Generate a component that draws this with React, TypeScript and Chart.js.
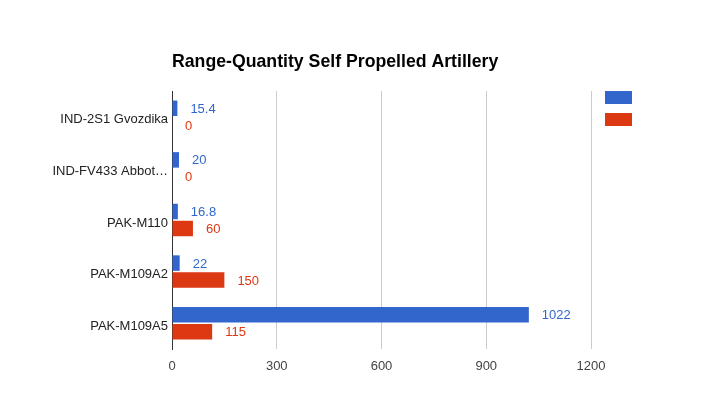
import React, { useEffect, useRef } from "react";
import { Chart, registerables } from "chart.js";

Chart.register(...registerables);

const categories = ["IND-2S1 Gvozdika", "IND-FV433 Abbot…", "PAK-M110", "PAK-M109A2", "PAK-M109A5"];
const rangeValues = [15.4, 20, 16.8, 22, 1022];
const quantityValues = [0, 0, 60, 150, 115];
const xTicks = [0, 300, 600, 900, 1200];
const titleText = "Range-Quantity Self Propelled Artillery";

const BLUE = "#3366cc";
const RED = "#dc3912";
const FONT = "'Liberation Sans', Arial, sans-serif";

const overlayPlugin = {
  id: "overlay",
  afterDatasetsDraw(chart: any) {
    const ctx = chart.ctx;
    const area = chart.chartArea;
    ctx.save();
    ctx.font = `13px ${FONT}`;
    ctx.textAlign = "left";
    ctx.textBaseline = "middle";
    chart.data.datasets.forEach((ds: any, di: number) => {
      const meta = chart.getDatasetMeta(di);
      meta.data.forEach((el: any, i: number) => {
        ctx.fillStyle = ds.backgroundColor;
        ctx.fillText(String(ds.data[i]), el.x + 13, el.y + 1);
      });
    });
    ctx.font = `bold 17.7px ${FONT}`;
    ctx.fillStyle = "#000";
    ctx.textBaseline = "middle";
    ctx.fillText(titleText, area.left, 62);
    chart.data.datasets.forEach((ds: any, di: number) => {
      ctx.fillStyle = ds.backgroundColor;
      ctx.fillRect(area.right + 14, area.top + di * 22, 27, 13);
    });
    ctx.restore();
  },
};

export default function App() {
  const ref = useRef<HTMLCanvasElement | null>(null);
  useEffect(() => {
    if (!ref.current) return;
    const chart = new Chart(ref.current, {
      type: "bar",
      data: {
        labels: categories,
        datasets: [
          { label: "", data: rangeValues, backgroundColor: BLUE, categoryPercentage: 0.66, barPercentage: 0.91 },
          { label: "", data: quantityValues, backgroundColor: RED, categoryPercentage: 0.66, barPercentage: 0.91 },
        ],
      },
      options: {
        indexAxis: "y",
        animation: false,
        responsive: false,
        maintainAspectRatio: false,
        layout: { padding: { top: 91, right: 112, left: 0, bottom: 0 } },
        plugins: {
          legend: { display: false },
          title: { display: false },
          tooltip: { enabled: false },
        },
        scales: {
          x: {
            min: 0,
            max: 1200,
            afterBuildTicks(scale: any) {
              scale.ticks = xTicks.map((v) => ({ value: v }));
            },
            afterFit(scale: any) {
              scale.height = 61;
            },
            grid: { color: "#cccccc", drawTicks: false },
            border: { display: false },
            ticks: {
              color: "#444444",
              font: { family: FONT, size: 13 },
              padding: 10,
              callback: (v: any) => String(v),
            },
          },
          y: {
            afterFit(scale: any) {
              scale.width = 172;
            },
            grid: { display: false, drawTicks: false },
            border: { display: true, color: "#333333", width: 1 },
            ticks: { color: "#222222", font: { family: FONT, size: 13 }, padding: 4, labelOffset: 3 },
          },
        },
      },
      plugins: [overlayPlugin],
    } as any);
    return () => chart.destroy();
  }, []);
  return (
    <div style={{ position: "absolute", left: 0, top: 0, width: 703, height: 410, background: "#fff" }}>
      <canvas ref={ref} width={703} height={410} style={{ width: 703, height: 410 }} />
    </div>
  );
}
